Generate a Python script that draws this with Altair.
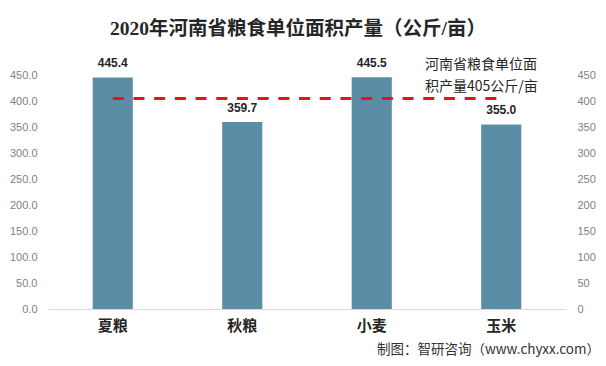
import altair as alt
import pandas as pd

categories = ["夏粮", "秋粮", "小麦", "玉米"]
values = [445.4, 359.7, 445.5, 355.0]
reference_values = [405, 405, 405, 405]
y_ticks = [0, 50, 100, 150, 200, 250, 300, 350, 400, 450]
annotation_lines = ["河南省粮食单位面", "积产量405公斤/亩"]
title_text = "2020年河南省粮食单位面积产量（公斤/亩）"
footer_text = "制图：智研咨询（www.chyxx.com）"

df = pd.DataFrame({"cat": categories, "val": values, "ref": reference_values,
                   "label": [f"{v:.1f}" for v in values]})

BAR = "#5b8ea6"
CJK = "Noto Sans CJK SC"
NUM = "Liberation Sans"

xscale = alt.Scale(paddingInner=0.69, paddingOuter=0.345)
x = alt.X("cat:N", sort=categories, title=None, scale=xscale,
          axis=alt.Axis(labelAngle=0, labelFont=CJK, labelFontSize=15, labelFontWeight="bold",
                        labelColor="#262626", labelPadding=9, ticks=False,
                        domainColor="#d9d9d9", domainWidth=1))
yscale = alt.Scale(domain=[0, 450])
left_axis = alt.Axis(values=y_ticks, format=".1f", grid=False, domain=False, ticks=False,
                     labelColor="#7f7f7f", labelFont=NUM, labelFontSize=11,
                     labelPadding=11, orient="left", title=None)

bars = alt.Chart(df).mark_bar(color=BAR).encode(
    x=x,
    y=alt.Y("val:Q", scale=yscale, title=None, axis=left_axis),
)

labels = alt.Chart(df).mark_text(baseline="bottom", dy=-7, fontWeight="bold", fontSize=12,
                                 font=NUM, color="#262626").encode(
    x=alt.X("cat:N", sort=categories),
    y=alt.Y("val:Q", scale=yscale, title=None, axis=left_axis),
    text="label:N",
)

line = alt.Chart(df).mark_line(color="#e8121b", strokeWidth=3, strokeDash=[11, 9.7]).encode(
    x=alt.X("cat:N", sort=categories),
    y=alt.Y("ref:Q", scale=yscale, title=None, axis=left_axis),
)

ann_df = pd.DataFrame({"t": [annotation_lines]})
annotation = alt.Chart(ann_df).mark_text(align="left", baseline="middle", font=CJK, fontSize=14,
                                         color="#262626", lineHeight=22).encode(
    text="t",
    x=alt.value(377), y=alt.value(-10),
)

foot_df = pd.DataFrame({"t": [footer_text]})
footer = alt.Chart(foot_df).mark_text(align="right", baseline="middle", font=CJK, fontSize=13.5,
                                      color="#333333").encode(
    text="t",
    x=alt.value(552), y=alt.value(275),
)

right_axis = alt.Chart(df).mark_bar(opacity=0).encode(
    x=alt.X("cat:N", sort=categories),
    y=alt.Y("val:Q", scale=yscale, title=None,
            axis=alt.Axis(values=y_ticks, format="d", grid=False, domain=False, ticks=False,
                          labelColor="#7f7f7f", labelFont=NUM, labelFontSize=11,
                          labelPadding=11, orient="right")),
)

main = alt.layer(bars, line, labels, annotation, footer)

chart = alt.layer(main, right_axis).resolve_scale(y="independent").properties(
    width=518, height=234,
    title=alt.TitleParams(title_text, font="Liberation Serif, Noto Sans CJK SC", fontSize=19.5,
                          fontWeight="bold", color="#262626", anchor="middle", dx=-9, offset=18),
    padding={"left": 40, "top": 67, "right": 32, "bottom": 49},
    autosize=alt.AutoSizeParams(type="none"),
).configure(background="white", view=alt.ViewConfig(stroke=None))

chart.save("out.html", embed_options={"renderer": "svg", "actions": False})
